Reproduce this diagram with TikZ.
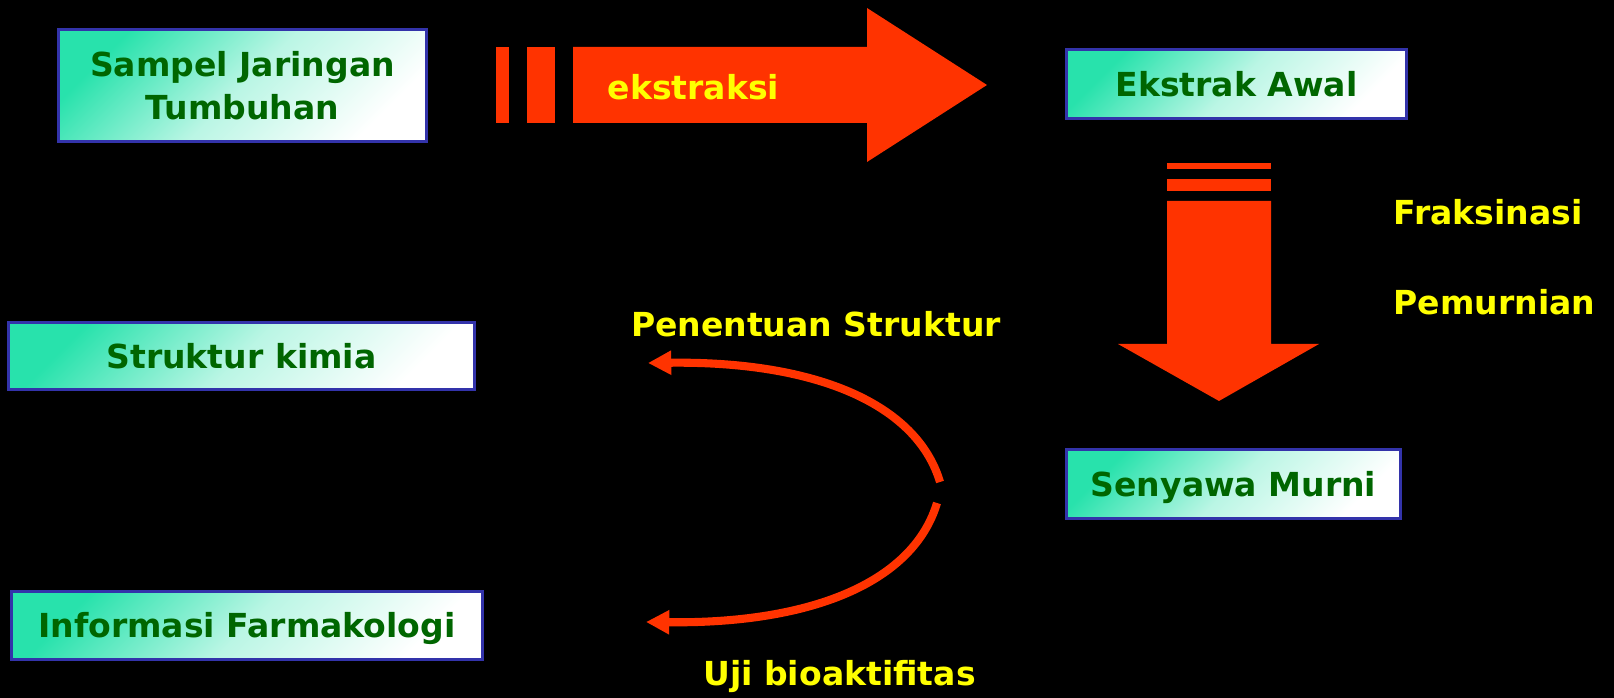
\documentclass[tikz,border=0pt]{standalone}
\usepackage{fontspec}
\setmainfont{DejaVu Sans}
\usetikzlibrary{arrows.meta}

\definecolor{arrowred}{RGB}{255,51,0}
\definecolor{boxteal}{RGB}{40,226,172}
\definecolor{boxline}{RGB}{51,51,170}
\definecolor{boxtext}{RGB}{0,102,0}
\definecolor{ketyellow}{RGB}{255,255,0}

\newcommand\huruf{\fontsize{9.4}{12.2}\selectfont\bfseries}

\tikzset{
  kotak/.style={draw=boxline,line width=0.85pt,top color=boxteal,bottom color=white,
    middle color=boxteal!32,shading angle=45,text=boxtext,font=\huruf,inner sep=0pt},
  satu/.style={kotak,text height=6.9pt,text depth=0pt},
  ket/.style={text=ketyellow,font=\huruf,inner sep=0pt},
  lengkung/.style={arrowred,line width=2.3pt,-{Triangle[length=6.6pt,width=6.5pt]}}
}

\begin{document}
\begin{tikzpicture}[x=0.01cm,y=-0.01cm]
    \fill[black] (0,0) rectangle (1614,698);
    \useasboundingbox (0,0) rectangle (1614,698);
    % kotak-kotak
    \node[kotak,align=center,minimum width=3.67cm,minimum height=1.11cm] (sampel) at (242.5,85.5) {Sampel Jaringan\\Tumbuhan};
    \node[satu,minimum width=3.39cm,minimum height=0.68cm] (ekstrak) at (1236.5,84) {Ekstrak Awal};
    \node[satu,minimum width=3.33cm,minimum height=0.68cm] (senyawa) at (1233.5,484) {Senyawa Murni};
    \node[satu,minimum width=4.65cm,minimum height=0.66cm] (struktur) at (241.5,356) {Struktur kimia};
    \node[satu,minimum width=4.70cm,minimum height=0.67cm] (info) at (247,625.5) {Informasi Farmakologi};
    % panah ekstraksi
    \foreach \a/\b in {496/509,527/555}{\fill[arrowred] (\a,47) rectangle (\b,123);}
    \fill[arrowred] (573,47) -- (867,47) -- (867,8) -- (987,85) -- (867,162) -- (867,123) -- (573,123) -- cycle;
    \node[ket,anchor=base west] (ekstraksi) at (607,100) {ekstraksi};
    % panah fraksinasi
    \foreach \a/\b in {163/169,179/191}{\fill[arrowred] (1167,\a) rectangle (1271,\b);}
    \fill[arrowred] (1167,201) -- (1271,201) -- (1271,344) -- (1319,344) -- (1219,401) -- (1118,344) -- (1167,344) -- cycle;
    \node[ket,anchor=base west] (fraksinasi) at (1393,225) {Fraksinasi};
    \node[ket,anchor=base west] (pemurnian) at (1393,315) {Pemurnian};
    % dua lengkung
    \coordinate (awalStruktur) at (940,482);
    \coordinate (ujungStruktur) at (648,363);
    \coordinate (awalUji) at (937,503);
    \coordinate (ujungUji) at (646,622);
    \draw[lengkung] (awalStruktur) .. controls (917,405) and (818,361) .. (ujungStruktur);
    \draw[lengkung] (awalUji) .. controls (914,580) and (816,624) .. (ujungUji);
    \node[ket,anchor=base] (penentuan) at (816,337) {Penentuan Struktur};
    \node[ket,anchor=base] (uji) at (839.5,686) {Uji bioaktifitas};
\end{tikzpicture}
\end{document}
